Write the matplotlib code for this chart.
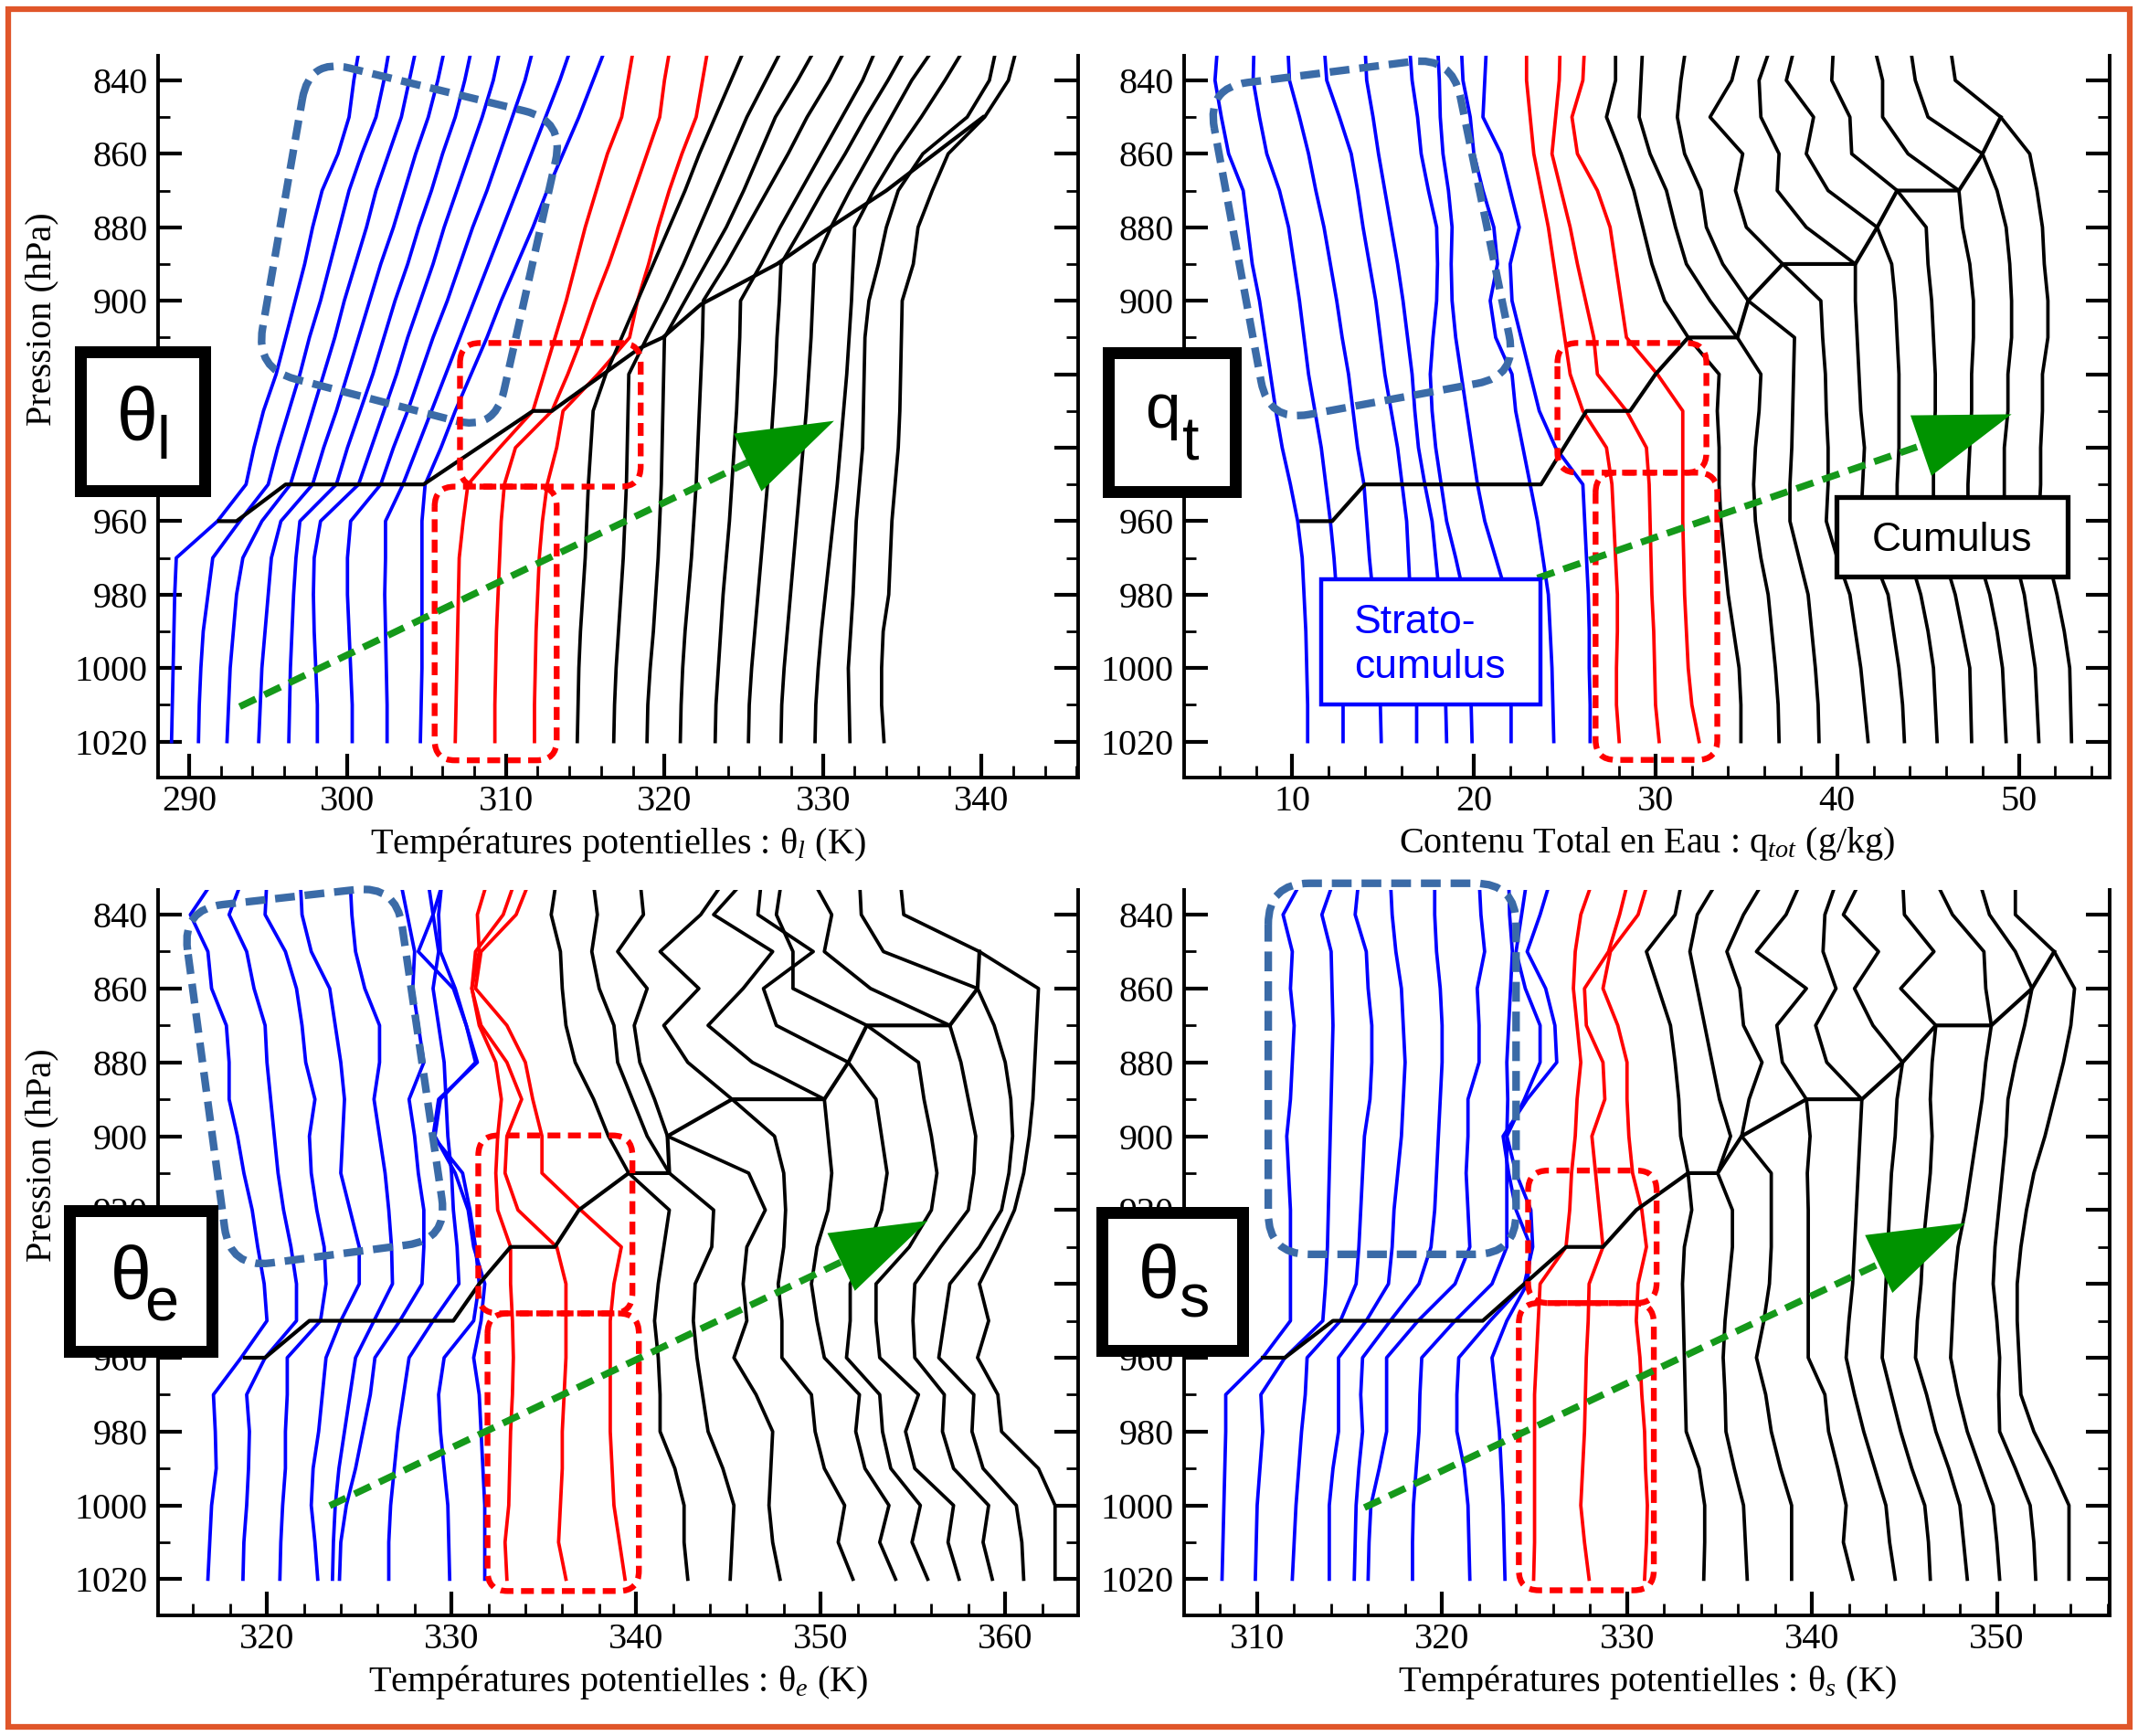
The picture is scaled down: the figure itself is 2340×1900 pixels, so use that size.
import numpy as np
import matplotlib.pyplot as plt
from matplotlib.patches import Rectangle, PathPatch, Polygon
from matplotlib.path import Path
from matplotlib.ticker import MultipleLocator

plt.rcParams['font.family'] = ['Liberation Serif', 'DejaVu Serif']
plt.rcParams['mathtext.fontset'] = 'custom'
plt.rcParams['mathtext.rm'] = 'Liberation Serif'
plt.rcParams['mathtext.it'] = 'Liberation Serif:italic'

# ---------------- data ----------------
p_levels = [1020, 1010, 1000, 990, 980, 970, 960, 950, 940, 930,
            920, 910, 900, 890, 880, 870, 860, 850, 840, 830]

# theta_l (K)
thl_blue = [
    [288.9, 288.95, 289.0, 289.05, 289.1, 289.2, 291.8, 293.6, 294.1, 294.7, 295.5, 296.1, 296.7, 297.3, 297.8, 298.4, 299.4, 300.1, 300.4, 300.8],
    [290.6, 290.65, 290.75, 290.9, 291.2, 291.5, 293.2, 295.0, 295.6, 296.3, 297.0, 297.6, 298.3, 298.9, 299.5, 300.1, 300.9, 301.8, 302.3, 302.7],
    [292.4, 292.5, 292.6, 292.8, 293.0, 293.4, 294.6, 296.4, 297.1, 297.8, 298.5, 299.2, 299.8, 300.5, 301.2, 301.8, 302.6, 303.4, 303.9, 304.4],
    [294.4, 294.5, 294.6, 294.8, 295.0, 295.2, 295.8, 297.8, 298.5, 299.3, 300.0, 300.7, 301.4, 302.1, 302.9, 303.6, 304.3, 305.1, 305.7, 306.2],
    [296.3, 296.35, 296.4, 296.5, 296.6, 296.75, 297.0, 299.3, 300.0, 300.8, 301.6, 302.3, 303.0, 303.8, 304.5, 305.3, 306.0, 306.8, 307.4, 307.9],
    [298.1, 298.1, 298.0, 297.9, 297.85, 297.9, 298.3, 300.7, 301.5, 302.3, 303.1, 303.8, 304.6, 305.4, 306.1, 306.9, 307.7, 308.5, 309.2, 309.7],
    [300.3, 300.3, 300.2, 300.1, 300.0, 300.0, 300.2, 302.1, 302.9, 303.8, 304.6, 305.4, 306.3, 307.1, 307.9, 308.8, 309.6, 310.4, 311.2, 311.8],
    [302.5, 302.5, 302.45, 302.4, 302.35, 302.4, 302.4, 303.5, 304.4, 305.3, 306.2, 307.1, 308.0, 308.9, 309.8, 310.7, 311.6, 312.5, 313.4, 314.2],
    [304.6, 304.65, 304.7, 304.7, 304.7, 304.7, 304.7, 304.9, 305.9, 306.8, 307.8, 308.8, 309.7, 310.7, 311.7, 312.6, 313.6, 314.6, 315.5, 316.4],
]
thl_red = [
    [306.8, 306.85, 306.9, 306.95, 307.0, 307.05, 307.3, 307.6, 309.6, 311.7, 312.4, 313.1, 313.8, 314.4, 315.0, 315.7, 316.4, 317.3, 317.7, 318.1],
    [309.3, 309.3, 309.35, 309.4, 309.5, 309.6, 309.7, 309.9, 310.6, 312.9, 313.9, 314.8, 315.6, 316.5, 317.3, 318.1, 318.9, 319.7, 320.0, 320.4],
    [311.8, 311.8, 311.85, 311.9, 312.0, 312.1, 312.3, 312.6, 313.2, 313.6, 315.8, 317.8, 318.3, 319.0, 319.6, 320.3, 321.1, 322.0, 322.4, 322.8],
]
thl_black = [
    [314.5, 314.55, 314.6, 314.7, 314.85, 315.0, 315.1, 315.2, 315.35, 315.5, 316.3, 317.3, 318.3, 319.3, 320.3, 321.3, 322.2, 323.2, 324.2, 325.2],
    [316.8, 316.85, 316.95, 317.1, 317.25, 317.4, 317.5, 317.6, 317.65, 317.7, 317.75, 318.9, 320.1, 321.2, 322.2, 323.2, 324.2, 325.2, 326.4, 327.6],
    [318.9, 318.95, 319.1, 319.3, 319.45, 319.6, 319.7, 319.8, 319.85, 319.9, 319.95, 320.0, 321.3, 322.6, 323.9, 325.0, 326.0, 327.0, 328.4, 329.7],
    [321.0, 321.05, 321.15, 321.3, 321.5, 321.7, 321.85, 322.0, 322.1, 322.2, 322.3, 322.4, 322.45, 323.9, 325.2, 326.5, 327.8, 329.0, 330.4, 331.6],
    [323.2, 323.25, 323.4, 323.55, 323.7, 323.9, 324.1, 324.25, 324.4, 324.55, 324.65, 324.75, 324.8, 326.1, 327.3, 328.6, 329.9, 331.2, 332.5, 333.5],
    [325.3, 325.35, 325.5, 325.7, 325.9, 326.1, 326.3, 326.5, 326.7, 326.85, 327.0, 327.1, 327.25, 327.35, 328.7, 330.0, 331.4, 332.7, 334.1, 335.4],
    [327.35, 327.4, 327.55, 327.75, 327.95, 328.15, 328.35, 328.55, 328.75, 328.95, 329.1, 329.25, 329.35, 329.45, 330.5, 331.7, 333.0, 334.3, 335.6, 337.2],
    [329.5, 329.55, 329.7, 329.9, 330.15, 330.4, 330.65, 330.9, 331.1, 331.3, 331.5, 331.65, 331.8, 331.9, 332.0, 333.2, 334.6, 336.2, 337.7, 339.1],
    [331.7, 331.65, 331.6, 331.75, 331.9, 332.0, 332.1, 332.3, 332.5, 332.55, 332.6, 332.65, 332.9, 333.5, 334.0, 334.75, 336.3, 339.1, 340.5, 341.0],
    [333.85, 333.7, 333.7, 333.8, 334.15, 334.25, 334.35, 334.55, 334.75, 334.85, 334.9, 334.95, 335.0, 335.7, 336.0, 336.9, 337.9, 340.2, 341.7, 342.3],
]
thl_inv_x = [291.9, 293.0, 296.1, 304.8, 311.7, 312.9, 318.4, 319.9, 322.3, 327.1, 330.1, 334.0, 340.1]
thl_inv_p = [960, 960, 950, 950, 930, 930, 913, 910, 901, 890, 881, 870, 850]

# q_tot (g/kg)
qt_blue = [
    [10.85, 10.85, 10.8, 10.75, 10.65, 10.55, 10.3, 9.9, 9.45, 9.1, 8.8, 8.5, 8.2, 7.8, 7.55, 7.3, 6.5, 6.1, 5.75, 5.9],
    [12.8, 12.8, 12.75, 12.6, 12.45, 12.3, 12.1, 11.85, 11.6, 11.25, 10.9, 10.65, 10.4, 10.1, 9.8, 9.3, 8.6, 8.2, 7.85, 7.9],
    [14.9, 14.85, 14.75, 14.6, 14.45, 14.25, 14.1, 13.95, 13.6, 13.35, 13.1, 12.75, 12.45, 12.1, 11.75, 11.3, 10.9, 10.4, 9.85, 9.75],
    [16.85, 16.85, 16.8, 16.65, 16.5, 16.4, 16.3, 16.05, 15.8, 15.45, 15.1, 14.85, 14.6, 14.25, 13.9, 13.6, 13.25, 12.6, 11.9, 11.75],
    [18.5, 18.45, 18.35, 18.25, 18.1, 17.9, 17.7, 17.3, 16.95, 16.75, 16.6, 16.35, 16.1, 15.8, 15.45, 15.1, 14.75, 14.45, 14.1, 14.0],
    [19.9, 19.85, 19.8, 19.6, 19.45, 19.0, 18.5, 18.2, 17.9, 17.7, 17.6, 17.75, 17.95, 18.0, 17.95, 17.5, 17.1, 16.9, 16.6, 16.45],
    [22.05, 22.05, 22.0, 22.1, 21.8, 21.2, 20.6, 20.2, 19.9, 19.6, 19.3, 19.0, 18.8, 18.75, 18.8, 18.6, 18.3, 18.15, 18.1, 18.0],
    [24.4, 24.35, 24.3, 24.2, 24.1, 23.8, 23.5, 23.1, 22.7, 22.3, 22.1, 21.2, 20.9, 21.3, 21.1, 20.5, 20.0, 19.8, 19.4, 19.3],
    [26.4, 26.4, 26.35, 26.35, 26.3, 26.2, 26.1, 26.0, 24.5, 23.6, 23.1, 22.6, 22.1, 22.0, 22.5, 22.0, 21.5, 20.5, 20.6, 20.7],
]
qt_red = [
    [28.0, 27.85, 27.85, 27.9, 27.9, 27.8, 27.7, 27.6, 27.3, 26.0, 25.3, 25.0, 24.7, 24.4, 24.1, 23.7, 23.3, 23.1, 22.9, 22.9],
    [30.2, 30.0, 29.95, 29.9, 29.8, 29.75, 29.7, 29.65, 29.5, 28.4, 26.8, 26.6, 26.15, 25.7, 25.3, 24.8, 24.3, 24.5, 24.7, 24.75],
    [32.4, 32.0, 31.8, 31.7, 31.6, 31.55, 31.5, 31.5, 31.5, 31.5, 30.1, 28.4, 28.1, 27.8, 27.5, 26.8, 25.7, 25.4, 26.0, 26.1],
]
qt_black = [
    [34.7, 34.7, 34.6, 34.3, 34.0, 33.8, 33.6, 33.5, 33.5, 33.4, 33.5, 31.8, 30.5, 29.8, 29.3, 28.8, 28.1, 27.3, 27.8, 27.8],
    [36.8, 36.75, 36.6, 36.4, 36.2, 35.8, 35.5, 35.4, 35.5, 35.7, 35.8, 34.5, 33.0, 31.7, 31.1, 30.6, 29.7, 29.1, 29.2, 29.3],
    [39.0, 38.95, 38.8, 38.6, 38.4, 37.9, 37.4, 37.4, 37.5, 37.55, 37.6, 37.65, 35.1, 33.7, 32.8, 32.5, 31.6, 31.2, 31.4, 31.7],
    [41.7, 41.5, 41.3, 41.0, 40.7, 40.0, 39.4, 39.5, 39.5, 39.4, 39.35, 39.2, 39.1, 37.0, 35.0, 34.4, 34.8, 33.0, 34.2, 34.7],
    [43.7, 43.6, 43.4, 43.1, 42.8, 42.0, 41.3, 41.4, 41.5, 41.3, 41.2, 41.1, 41.0, 41.0, 38.3, 36.7, 36.8, 35.8, 35.7, 36.4],
    [45.5, 45.4, 45.3, 45.0, 44.6, 44.0, 43.3, 43.3, 43.4, 43.4, 43.4, 43.3, 43.2, 43.0, 42.2, 39.5, 38.3, 38.7, 37.2, 37.7],
    [47.4, 47.35, 47.3, 46.9, 46.5, 45.9, 45.3, 45.3, 45.3, 45.4, 45.4, 45.3, 45.2, 45.0, 44.9, 43.3, 40.8, 40.7, 39.7, 39.8],
    [49.3, 49.2, 49.1, 48.8, 48.4, 47.8, 47.2, 47.2, 47.3, 47.4, 47.4, 47.5, 47.5, 47.3, 46.9, 46.7, 43.9, 42.5, 42.5, 42.0],
    [51.1, 51.0, 50.9, 50.6, 50.3, 49.8, 49.2, 49.2, 49.2, 49.4, 49.4, 49.6, 49.6, 49.5, 49.3, 48.8, 48.0, 45.0, 44.3, 44.0],
    [52.9, 52.85, 52.8, 52.5, 52.1, 51.6, 51.1, 51.2, 51.2, 51.3, 51.3, 51.6, 51.6, 51.4, 51.3, 51.0, 50.6, 49.0, 46.5, 46.2],
]
qt_inv_x = [10.5, 12.2, 14.0, 23.7, 26.2, 28.6, 30.0, 31.8, 34.5, 35.1, 37.0, 41.0, 42.2, 43.3, 46.7, 48.0, 49.0]
qt_inv_p = [960, 960, 950, 950, 930, 930, 920, 910, 910, 900, 890, 890, 880, 870, 870, 860, 850]

# theta_e (K)
the_blue = [
    [316.8, 316.9, 317.0, 317.25, 317.2, 317.1, 318.6, 320.0, 319.85, 319.5, 319.2, 318.75, 318.4, 317.95, 317.95, 317.8, 317.0, 316.8, 315.85, 317.2],
    [318.7, 318.75, 318.9, 319.0, 319.05, 318.9, 319.9, 321.6, 321.6, 321.3, 320.9, 320.6, 320.4, 320.2, 320.0, 319.9, 319.3, 318.9, 317.95, 318.7],
    [320.7, 320.75, 320.85, 321.0, 321.0, 321.1, 321.1, 322.9, 323.2, 323.1, 322.7, 322.4, 322.3, 322.6, 322.1, 321.9, 321.6, 321.0, 319.9, 320.0],
    [322.75, 322.6, 322.4, 322.5, 322.8, 323.0, 323.2, 324.0, 325.0, 325.0, 324.5, 324.0, 324.1, 324.2, 324.0, 323.7, 323.4, 322.4, 321.9, 321.8],
    [323.55, 323.6, 323.7, 323.9, 324.2, 324.5, 324.8, 325.8, 326.8, 326.75, 326.6, 326.4, 326.1, 325.8, 326.1, 326.1, 325.3, 324.8, 324.6, 324.5],
    [323.93, 324.0, 324.3, 324.8, 325.2, 325.6, 325.85, 327.2, 328.4, 328.5, 328.5, 328.2, 328.0, 327.7, 328.5, 328.2, 327.9, 328.0, 327.6, 327.2],
    [326.6, 326.6, 326.7, 326.9, 327.1, 327.4, 327.7, 329.0, 330.4, 330.3, 330.1, 330.0, 329.8, 329.7, 329.6, 329.3, 329.0, 329.3, 329.0, 328.7],
    [329.9, 329.85, 329.8, 329.6, 329.4, 329.3, 329.6, 331.2, 331.5, 331.3, 331.0, 330.6, 329.0, 329.3, 331.4, 330.8, 330.1, 328.2, 329.0, 329.6],
    [331.8, 331.8, 331.8, 331.7, 331.6, 331.5, 331.2, 331.6, 331.8, 331.2, 330.9, 330.2, 329.1, 329.4, 331.3, 330.8, 330.2, 329.4, 329.3, 329.5],
]
the_red = [
    [333.0, 332.9, 333.1, 333.15, 333.2, 333.3, 333.35, 333.3, 333.2, 333.2, 332.5, 332.4, 332.5, 332.7, 332.4, 331.5, 331.1, 331.5, 331.4, 332.0],
    [336.2, 335.8, 335.9, 336.0, 336.0, 336.1, 336.2, 336.2, 336.2, 335.7, 333.6, 332.9, 333.0, 333.8, 333.0, 331.6, 331.1, 331.3, 332.8, 333.5],
    [339.4, 339.1, 338.8, 338.7, 338.6, 338.6, 338.6, 338.6, 338.8, 339.2, 337.0, 334.9, 334.9, 334.4, 334.0, 333.0, 331.3, 331.6, 333.5, 334.3],
]
the_black = [
    [342.8, 342.6, 342.6, 342.1, 341.3, 341.3, 341.2, 341.0, 341.2, 341.5, 341.8, 339.6, 338.5, 337.7, 336.7, 336.2, 336.0, 335.9, 335.4, 335.7],
    [345.1, 345.2, 345.3, 344.7, 343.9, 343.6, 343.3, 343.1, 343.2, 344.1, 344.2, 341.8, 340.6, 339.8, 339.0, 338.8, 338.0, 337.6, 337.9, 337.65],
    [347.8, 347.4, 347.2, 347.3, 347.4, 346.5, 345.3, 346.0, 345.8, 346.0, 347.0, 346.1, 341.7, 341.0, 340.2, 339.9, 340.6, 339.0, 340.4, 340.2],
    [351.75, 350.95, 351.3, 350.2, 349.7, 349.5, 347.9, 347.9, 347.7, 348.0, 348.1, 348.0, 347.5, 345.2, 342.8, 341.5, 343.4, 341.3, 343.5, 344.9],
    [354.06, 353.2, 353.7, 352.4, 351.9, 352.1, 350.2, 349.8, 349.5, 349.8, 350.4, 350.6, 350.4, 350.2, 346.3, 343.9, 345.8, 347.4, 344.2, 346.0],
    [355.8, 354.95, 355.4, 353.8, 353.35, 353.2, 351.4, 351.6, 351.6, 352.6, 353.3, 353.6, 353.3, 353.0, 351.5, 347.6, 346.9, 349.6, 346.6, 346.8],
    [357.5, 356.9, 357.2, 355.1, 354.6, 355.3, 353.2, 353.0, 353.0, 354.8, 356.0, 356.3, 356.0, 355.6, 355.3, 352.5, 348.5, 348.5, 347.6, 347.9],
    [359.3, 358.8, 359.1, 357.2, 356.6, 356.7, 355.1, 355.0, 355.1, 356.5, 358.0, 358.3, 358.4, 358.0, 357.6, 357.0, 352.7, 350.2, 350.6, 349.5],
    [361.0, 360.9, 360.6, 358.8, 358.2, 358.3, 356.4, 356.7, 357.0, 358.6, 359.8, 360.2, 360.4, 360.3, 360.0, 359.4, 358.5, 353.4, 352.2, 352.1],
    [362.7, 362.7, 362.7, 361.8, 359.8, 359.6, 358.5, 359.1, 358.6, 359.6, 360.5, 361.0, 361.3, 361.5, 361.6, 361.7, 361.8, 358.6, 354.5, 354.3],
]
the_inv_x = [318.8, 319.9, 322.3, 330.1, 331.5, 333.2, 335.6, 336.9, 339.6, 341.8, 341.7, 345.2, 350.2, 351.5, 352.5, 357.0, 358.5, 358.6]
the_inv_p = [960, 960, 950, 950, 940, 930, 930, 920, 910, 910, 900, 890, 890, 880, 870, 870, 860, 850]

# theta_s (K)
ths_blue = [
    [308.1, 308.15, 308.2, 308.25, 308.3, 308.3, 310.3, 311.8, 311.8, 311.8, 311.8, 311.7, 311.6, 311.8, 311.9, 312.0, 311.8, 311.9, 311.4, 312.5],
    [309.9, 309.95, 310.0, 310.15, 310.3, 310.2, 311.5, 313.55, 313.7, 313.8, 313.85, 313.9, 313.95, 314.0, 314.05, 314.1, 314.05, 314.0, 313.5, 314.2],
    [311.9, 312.0, 312.1, 312.25, 312.4, 312.6, 312.7, 314.5, 315.35, 315.5, 315.6, 315.7, 315.8, 316.1, 316.2, 316.2, 316.0, 315.9, 315.3, 315.5],
    [313.9, 313.9, 313.9, 314.1, 314.4, 314.4, 314.4, 315.9, 317.1, 317.3, 317.4, 317.6, 317.8, 317.9, 318.0, 317.9, 317.8, 317.5, 317.3, 317.2],
    [315.25, 315.3, 315.35, 315.5, 315.7, 315.6, 315.7, 317.2, 318.75, 319.4, 319.6, 319.7, 319.8, 319.9, 320.0, 320.0, 319.9, 319.7, 319.6, 319.6],
    [316.0, 316.05, 316.15, 316.6, 317.0, 317.0, 317.0, 318.7, 320.7, 321.5, 321.4, 321.3, 321.4, 321.4, 322.0, 322.0, 321.9, 322.3, 322.1, 322.0],
    [318.4, 318.4, 318.45, 318.6, 318.75, 318.8, 318.9, 320.7, 322.7, 323.5, 323.5, 323.5, 323.5, 323.55, 323.5, 323.6, 323.7, 323.8, 323.65, 323.6],
    [321.5, 321.45, 321.4, 321.2, 320.8, 320.8, 320.9, 322.6, 324.45, 324.9, 324.8, 324.0, 323.5, 324.45, 325.3, 325.3, 324.5, 324.0, 324.3, 324.6],
    [323.4, 323.35, 323.3, 323.2, 323.1, 322.9, 322.7, 323.5, 324.6, 324.8, 324.0, 323.6, 323.3, 324.6, 326.2, 326.1, 325.6, 324.6, 325.3, 325.9],
]
ths_red = [
    [324.95, 325.0, 325.0, 325.0, 325.0, 325.0, 325.1, 325.2, 325.3, 326.7, 326.9, 327.0, 327.2, 327.3, 327.5, 327.3, 327.1, 327.2, 327.5, 328.2],
    [327.95, 327.7, 327.5, 327.6, 327.7, 327.75, 327.8, 327.9, 327.95, 328.7, 328.5, 328.3, 328.1, 328.8, 328.7, 327.8, 327.7, 329.0, 329.6, 330.1],
    [330.95, 331.05, 331.1, 331.0, 330.95, 330.8, 330.7, 330.5, 330.6, 331.05, 330.8, 330.3, 330.1, 330.0, 330.0, 329.5, 328.7, 329.1, 330.6, 331.2],
]
ths_black = [
    [334.15, 334.2, 334.2, 333.9, 333.2, 333.15, 333.1, 333.05, 333.0, 333.1, 333.5, 333.3, 332.9, 332.8, 332.6, 332.35, 331.7, 331.05, 332.6, 333.0],
    [336.5, 336.4, 336.3, 335.8, 335.35, 335.3, 335.2, 335.3, 335.5, 335.7, 335.7, 334.9, 335.6, 335.0, 334.6, 334.2, 333.8, 333.4, 333.8, 335.0],
    [338.9, 338.9, 338.9, 338.3, 337.8, 337.5, 337.0, 337.4, 337.7, 337.8, 337.8, 337.8, 336.2, 336.6, 337.3, 336.3, 336.1, 335.4, 336.3, 337.5],
    [342.2, 341.7, 341.85, 341.4, 340.9, 340.7, 339.8, 339.8, 339.8, 339.8, 339.8, 339.75, 339.9, 339.7, 338.4, 338.1, 339.7, 337.0, 338.6, 339.5],
    [344.5, 344.2, 344.0, 343.4, 342.8, 342.3, 341.85, 342.0, 342.2, 342.3, 342.4, 342.5, 342.6, 342.7, 340.8, 340.2, 341.3, 340.6, 340.7, 341.4],
    [346.4, 346.3, 346.1, 345.4, 344.8, 344.3, 343.8, 343.9, 344.0, 344.1, 344.2, 344.3, 344.5, 344.6, 344.9, 343.3, 342.3, 343.6, 341.7, 342.7],
    [348.4, 348.2, 348.0, 347.4, 346.7, 346.2, 345.6, 345.7, 345.9, 346.0, 346.2, 346.4, 346.5, 346.4, 346.5, 346.7, 344.8, 346.6, 345.0, 344.9],
    [350.15, 350.0, 349.8, 349.1, 348.4, 347.9, 347.5, 347.6, 347.7, 347.9, 348.3, 348.6, 348.9, 349.2, 349.4, 349.7, 349.4, 349.3, 347.6, 346.6],
    [352.1, 352.0, 351.8, 351.0, 350.15, 350.1, 350.15, 350.0, 349.8, 349.9, 350.1, 350.3, 350.5, 350.6, 351.0, 351.5, 351.9, 351.0, 349.6, 349.0],
    [353.9, 353.9, 353.9, 353.0, 352.0, 351.3, 351.2, 351.1, 351.1, 351.3, 351.6, 352.0, 352.6, 353.1, 353.6, 354.0, 354.2, 353.1, 351.0, 351.0],
]
ths_inv_x = [310.3, 311.5, 314.1, 322.2, 324.45, 326.7, 328.7, 330.5, 333.3, 334.9, 336.2, 339.7, 342.7, 344.9, 346.7, 349.7, 351.9, 353.1]
ths_inv_p = [960, 960, 950, 950, 940, 930, 930, 920, 910, 910, 900, 890, 890, 880, 870, 870, 860, 850]

# ---------------- figure ----------------
W, H = 2340, 1900
fig = plt.figure(figsize=(W / 100, H / 100), dpi=100)

BLUE, RED = '#0000ff', '#ff0000'
BOXBLUE = '#3b6ba7'
GREEN, GREEN_HEAD = '#15991a', '#009300'
PROFILE_LW = 2.7
LABEL_SIZE = 29


def fig_rect(x0, y0, x1, y1):
    return [x0 / W, 1 - y1 / H, (x1 - x0) / W, (y1 - y0) / H]


def rounded_path(ax, corners, r):
    # rounded polygon built in pixel space, returned in data coords
    pts = ax.transData.transform(np.asarray(corners, float))
    verts, codes = [], []
    n = len(pts)
    for i in range(n):
        c, prv, nxt = pts[i], pts[i - 1], pts[(i + 1) % n]
        a = c + (prv - c) / np.hypot(*(prv - c)) * r
        b = c + (nxt - c) / np.hypot(*(nxt - c)) * r
        verts.append(a)
        codes.append(Path.MOVETO if i == 0 else Path.LINETO)
        verts += [c, b]
        codes += [Path.CURVE3, Path.CURVE3]
    verts.append(verts[0])
    codes.append(Path.LINETO)
    return Path(ax.transData.inverted().transform(np.array(verts)), codes)


def dashed_box(ax, corners, color, lw, dash, r):
    ax.add_patch(PathPatch(rounded_path(ax, corners, r), fill=False, ec=color, lw=lw,
                           linestyle=(0, dash), zorder=5, clip_on=False))


def green_arrow(ax, start, tip, head_len=105, head_w=70):
    s = ax.transData.transform(start)
    t = ax.transData.transform(tip)
    d = (t - s) / np.hypot(*(t - s))
    nrm = np.array([-d[1], d[0]])
    base = t - d * head_len
    inv = ax.transData.inverted()
    seg = inv.transform(np.array([s, base + d * 10]))
    ax.plot(seg[:, 0], seg[:, 1], color=GREEN, lw=5.4, linestyle=(0, (2.6, 1.4)),
            dash_capstyle='butt', zorder=7, clip_on=False)
    head = inv.transform(np.array([t, base + nrm * head_w / 2, base - nrm * head_w / 2]))
    ax.add_patch(Polygon(head, closed=True, fc=GREEN_HEAD, ec='none', zorder=8, clip_on=False))


panels = [
    dict(rect=(173, 61, 1180, 851), xlim=(288.05, 346.1),
         blue=thl_blue, red=thl_red, black=thl_black, inv=(thl_inv_x, thl_inv_p),
         xlabel='Températures potentielles : θ$_{l}$ (K)', ylabel=True,
         bluebox=[(297.6, 834.0), (313.7, 851.0), (309.3, 935.5), (294.2, 918.5)],
         redboxes=[(307.1, 318.5, 911.5, 950.6), (305.5, 313.2, 950.6, 1025.1)],
         arrow=((293.2, 1010.5), (330.7, 932.7))),
    dict(rect=(1296, 61, 2309, 851), xlim=(4.05, 55.0),
         blue=qt_blue, red=qt_red, black=qt_black, inv=(qt_inv_x, qt_inv_p),
         xlabel='Contenu Total en Eau : q$_{tot}$ (g/kg)', ylabel=False,
         bluebox=[(5.3, 842.0), (18.8, 833.5), (22.4, 920.5), (8.7, 933.0)],
         redboxes=[(24.6, 32.8, 911.5, 946.8), (26.7, 33.4, 946.8, 1025.0)],
         arrow=((23.5, 975.5), (49.6, 930.9))),
    dict(rect=(173, 974, 1180, 1768), xlim=(314.1, 363.95),
         blue=the_blue, red=the_red, black=the_black, inv=(the_inv_x, the_inv_p),
         xlabel='Températures potentielles : θ$_{e}$ (K)', ylabel=True,
         bluebox=[(315.4, 838.5), (327.0, 832.0), (329.8, 928.0), (318.0, 935.8)],
         redboxes=[(331.45, 339.8, 899.8, 948.0), (331.95, 340.15, 948.0, 1023.2)],
         arrow=((323.4, 1000.1), (355.8, 922.9))),
    dict(rect=(1296, 974, 2309, 1768), xlim=(306.05, 356.1),
         blue=ths_blue, red=ths_red, black=ths_black, inv=(ths_inv_x, ths_inv_p),
         xlabel='Températures potentielles : θ$_{s}$ (K)', ylabel=False,
         bluebox=[(310.6, 831.5), (324.0, 831.5), (324.0, 932.0), (310.6, 932.0)],
         redboxes=[(324.65, 331.6, 909.3, 945.2), (324.15, 331.45, 945.2, 1023.0)],
         arrow=((315.8, 1000.6), (348.3, 923.5))),
]

axes = []
for spec in panels:
    ax = fig.add_axes(fig_rect(*spec['rect']))
    axes.append(ax)
    ax.set_xlim(*spec['xlim'])
    ax.set_ylim(1029.8, 833.3)
    ax.spines['top'].set_visible(False)
    for s in ('left', 'right', 'bottom'):
        ax.spines[s].set_linewidth(2.8)
    ax.xaxis.set_major_locator(MultipleLocator(10))
    ax.xaxis.set_minor_locator(MultipleLocator(2))
    ax.yaxis.set_major_locator(MultipleLocator(20))
    ax.yaxis.set_minor_locator(MultipleLocator(10))
    ax.tick_params(which='both', direction='in', top=False, right=True,
                   labelright=False, labelsize=LABEL_SIZE)
    ax.tick_params(which='major', length=19, width=3.0)
    ax.tick_params(which='minor', length=9.5, width=2.0)
    ax.tick_params(axis='x', which='both', pad=6)
    ax.tick_params(axis='y', which='both', pad=8)

    ax.set_xlabel(spec['xlabel'], fontsize=LABEL_SIZE)
    ax.xaxis.set_label_coords(0.5, -0.066)
    if spec['ylabel']:
        ax.set_ylabel('Pression (hPa)', fontsize=LABEL_SIZE)
        ax.yaxis.set_label_coords(-0.108, 0.635)

    for xs in spec['blue']:
        ax.plot(xs, p_levels, color=BLUE, lw=PROFILE_LW, zorder=2)
    for xs in spec['red']:
        ax.plot(xs, p_levels, color=RED, lw=PROFILE_LW, zorder=2)
    for xs in spec['black']:
        ax.plot(xs, p_levels, color='black', lw=PROFILE_LW, zorder=2)
    ax.plot(spec['inv'][0], spec['inv'][1], color='black', lw=PROFILE_LW + 0.3, zorder=3)

    dashed_box(ax, spec['bluebox'], BOXBLUE, 6.0, (2.6, 1.3), 45)
    for x0, x1, p0, p1 in spec['redboxes']:
        dashed_box(ax, [(x0, p0), (x1, p0), (x1, p1), (x0, p1)], RED, 4.6, (2.2, 1.3), 22)
    green_arrow(ax, *spec['arrow'])

# cloud-type labels in the q_t panel
ax2 = axes[1]
ax2.add_patch(Rectangle((11.6, 975.9), 23.65 - 11.6, 1010.0 - 975.9, fc='white',
                        ec=BLUE, lw=3.2, zorder=9))
ax2.text(13.4, 990.6, 'Strato-', color=BLUE, fontsize=32, family='Liberation Sans',
         ha='left', va='baseline', zorder=10)
ax2.text(13.4, 1002.8, 'cumulus', color=BLUE, fontsize=32, family='Liberation Sans',
         ha='left', va='baseline', zorder=10)
ax2.add_patch(Rectangle((39.97, 953.5), 52.67 - 39.97, 975.2 - 953.5, fc='white',
                        ec='black', lw=3.8, zorder=9))
ax2.text(46.3, 968.0, 'Cumulus', color='black', fontsize=32, family='Liberation Sans',
         ha='center', va='baseline', zorder=10)

# variable boxes (pixel layout)
var_boxes = [
    ((81, 378, 230, 543), 'θ', 'l', (150, 481), (179, 502), 58),
    ((1206, 380, 1358, 544), 'q', 't', (1272, 468), (1303, 504), 50),
    ((69, 1318, 238, 1485), 'θ', 'e', (143, 1421), (177, 1445), 58),
    ((1200, 1320, 1367, 1484), 'θ', 's', (1268, 1420), (1307, 1442), 58),
]
box_lw_px = 13
for (x0, y0, x1, y1), main, sub, mpos, spos, msize in var_boxes:
    h = box_lw_px / 2
    fig.add_artist(Rectangle(((x0 + h) / W, 1 - (y1 - h) / H), (x1 - x0 - 2 * h) / W,
                             (y1 - y0 - 2 * h) / H, transform=fig.transFigure,
                             fc='white', ec='black', lw=box_lw_px * 0.72, zorder=20))
    fig.text(mpos[0] / W, 1 - mpos[1] / H, main, fontsize=msize, family='Liberation Sans',
             ha='center', va='baseline', zorder=21)
    fig.text(spos[0] / W, 1 - spos[1] / H, sub, fontsize=48, family='Liberation Sans',
             ha='center', va='baseline', zorder=21)

# orange frame around the whole figure
fig.add_artist(Rectangle((9 / W, 10 / H), (2331 - 9) / W, (1890 - 10) / H,
                         transform=fig.transFigure, fill=False, ec='#e0562a', lw=4.5, zorder=30))

fig.savefig('out.png', dpi=100)
